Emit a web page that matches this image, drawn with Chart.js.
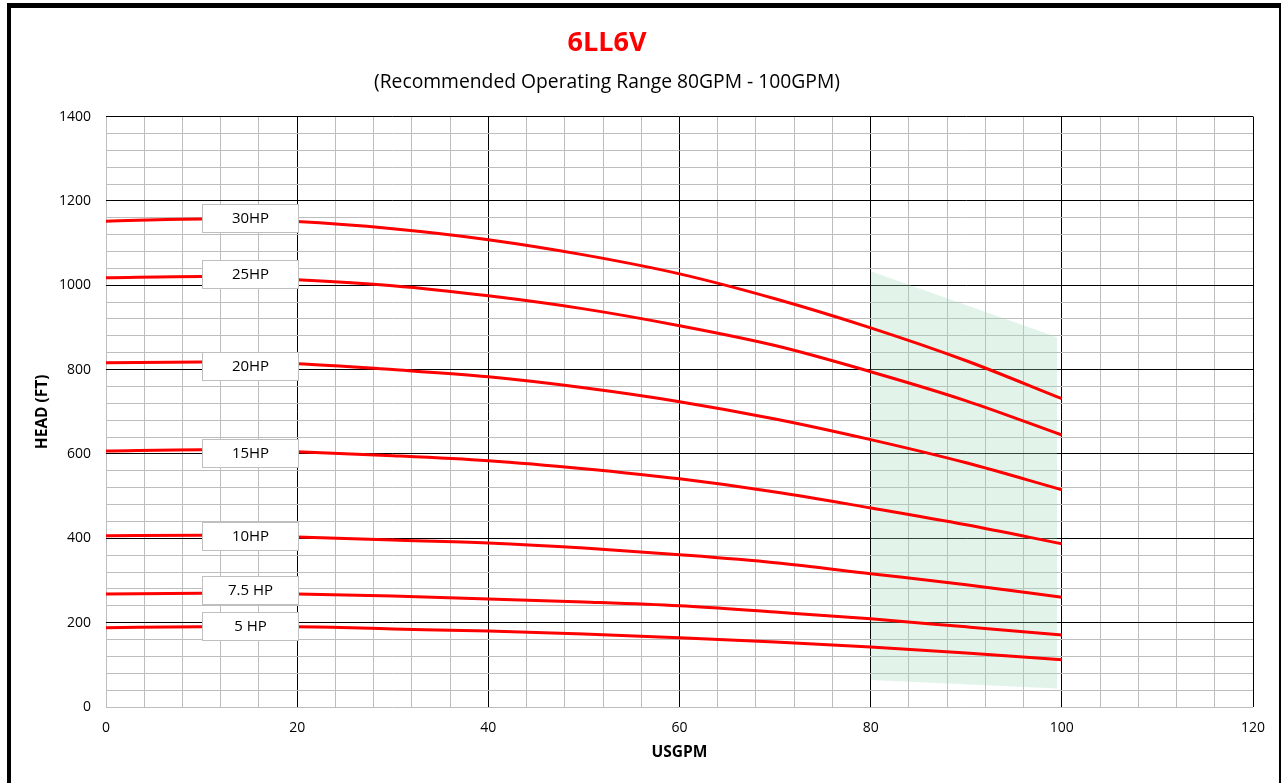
<!DOCTYPE html>
<html>
<head>
<meta charset="utf-8">
<script src="https://cdn.jsdelivr.net/npm/chart.js@4.4.1/dist/chart.umd.min.js"></script>
<style>
  html, body { margin: 0; padding: 0; background: #ffffff; }
  #wrap { position: relative; width: 1281px; height: 783px; }
</style>
</head>
<body>
<div id="wrap"><canvas id="c" width="1281" height="783"></canvas></div>
<script>
// ---- data ----
const flowGPM = [0, 10, 20, 30, 40, 50, 60, 70, 80, 90, 100];
const curveLabels = ['30HP', '25HP', '20HP', '15HP', '10HP', '7.5 HP', '5 HP'];
const head30 = [1152, 1157, 1151, 1134, 1108, 1072, 1027, 968, 899, 821, 731];
const head25 = [1018, 1021, 1013, 999, 975, 944, 904, 857, 795, 726, 645];
const head20 = [816, 818, 814, 800, 783, 757, 724, 683, 634, 579, 515];
const head15 = [607, 610, 605, 596, 584, 565, 541, 510, 472, 432, 387];
const head10 = [406, 407, 403, 396, 389, 377, 361, 342, 316, 290, 260];
const head7_5 = [268, 270, 268, 263, 256, 249, 240, 225, 209, 190, 171];
const head5 = [188, 190, 190, 185, 180, 173, 164, 154, 142, 128, 112];
const labelHeads = [1160, 1027, 809, 603, 406, 278, 192];
const labelFlowStart = 10.05;
const labelFlowEnd = 20.1;
// recommended operating range region
const rangeFlow = [80, 99.5];
const rangeTop = [1033, 877];
const rangeBottom = [64, 44];
const xTicks = [0, 20, 40, 60, 80, 100, 120];
const yTicks = [0, 200, 400, 600, 800, 1000, 1200, 1400];

const allHeads = [head30, head25, head20, head15, head10, head7_5, head5];
const toPts = (xs, ys) => xs.map((x, i) => ({ x: x, y: ys[i] }));

const datasets = allHeads.map((h, i) => ({
  label: curveLabels[i],
  data: toPts(flowGPM, h),
  borderColor: '#ff0000',
  borderWidth: 3,
  pointRadius: 0,
  cubicInterpolationMode: 'monotone',
  fill: false,
  order: 0
}));
datasets.push({
  label: 'rangeTop',
  data: toPts(rangeFlow, rangeTop),
  borderWidth: 0,
  borderColor: 'rgba(0,0,0,0)',
  backgroundColor: 'rgba(158,218,185,0.3)',
  pointRadius: 0,
  fill: '+1',
  order: 10
});
datasets.push({
  label: 'rangeBottom',
  data: toPts(rangeFlow, rangeBottom),
  borderWidth: 0,
  borderColor: 'rgba(0,0,0,0)',
  pointRadius: 0,
  fill: false,
  order: 11
});

const FONT = "'Open Sans', 'Liberation Sans', sans-serif";

const labelBoxes = {
  id: 'labelBoxes',
  afterDatasetsDraw(chart) {
    const { ctx, scales: { x, y } } = chart;
    ctx.save();
    const x0 = Math.round(x.getPixelForValue(labelFlowStart)) + 0.5;
    const x1 = Math.round(x.getPixelForValue(labelFlowEnd)) + 0.5;
    curveLabels.forEach((lab, i) => {
      const cy = y.getPixelForValue(labelHeads[i]);
      const top = Math.round(cy - 14) + 0.5;
      ctx.fillStyle = '#ffffff';
      ctx.fillRect(x0, top, x1 - x0, 28);
      ctx.strokeStyle = '#bfbfbf';
      ctx.lineWidth = 1;
      ctx.strokeRect(x0, top, x1 - x0, 28);
      ctx.fillStyle = '#000000';
      ctx.font = '15px ' + FONT;
      ctx.textAlign = 'center';
      ctx.textBaseline = 'middle';
      ctx.fillText(lab, (x0 + x1) / 2, top + 14.5);
    });
    ctx.restore();
  }
};

const pageBorder = {
  id: 'pageBorder',
  afterDraw(chart) {
    const ctx = chart.ctx;
    ctx.save();
    ctx.fillStyle = '#000000';
    ctx.fillRect(7, 3, 1281 - 7, 5);
    ctx.fillRect(7, 3, 4, 783);
    ctx.fillRect(1279, 3, 2, 783);
    ctx.restore();
  }
};

new Chart(document.getElementById('c'), {
  type: 'line',
  data: { datasets: datasets },
  plugins: [labelBoxes, pageBorder],
  options: {
    responsive: false,
    animation: false,
    layout: { padding: { left: -39, right: 28, top: 0, bottom: 0 } },
    plugins: {
      legend: { display: false },
      tooltip: { enabled: false },
      title: {
        display: true,
        text: '6LL6V',
        color: '#ff0000',
        font: { family: FONT, size: 27, weight: 'bold', lineHeight: 1.2 },
        padding: { top: 27, bottom: 0 }
      },
      subtitle: {
        display: true,
        text: '(Recommended Operating Range 80GPM - 100GPM)',
        color: '#000000',
        font: { family: FONT, size: 19.3, lineHeight: 1.2 },
        padding: { top: 12, bottom: 22 }
      }
    },
    scales: {
      x: {
        type: 'linear',
        min: 0, max: 120,
        afterFit(s) { s.height = 76; },
        afterBuildTicks(s) {
          const t = [];
          for (let v = 0; v <= 120; v += 4) t.push({ value: v });
          s.ticks = t;
        },
        border: { display: false },
        grid: {
          drawTicks: false,
          lineWidth: 1,
          color: (c) => (c.tick && c.tick.value % 20 === 0 && c.tick.value !== 0) ? '#000000' : '#bdbdbd'
        },
        ticks: {
          autoSkip: false,
          maxRotation: 0,
          padding: 13,
          color: '#000000',
          font: { family: FONT, size: 14 },
          callback: (v) => xTicks.includes(v) ? String(v) : ''
        },
        title: {
          display: true,
          text: 'USGPM',
          color: '#000000',
          font: { family: FONT, size: 15.5, weight: 'bold', lineHeight: 1.2 },
          padding: { top: 0, bottom: 21 }
        }
      },
      y: {
        type: 'linear',
        min: 0, max: 1400,
        afterFit(s) { s.width = 145; },
        afterBuildTicks(s) {
          const t = [];
          for (let v = 0; v <= 1400; v += 40) t.push({ value: v });
          s.ticks = t;
        },
        border: { display: false },
        grid: {
          drawTicks: false,
          lineWidth: 1,
          color: (c) => (c.tick && c.tick.value % 200 === 0 && c.tick.value !== 0) ? '#000000' : '#bdbdbd'
        },
        ticks: {
          autoSkip: false,
          padding: 15,
          color: '#000000',
          font: { family: FONT, size: 14 },
          callback: (v) => yTicks.includes(v) ? String(v) : ''
        },
        title: {
          display: true,
          text: 'HEAD (FT)',
          color: '#000000',
          font: { family: FONT, size: 15.5, weight: 'bold', lineHeight: 1.2 },
          padding: { top: 72, bottom: 0 }
        }
      }
    }
  }
});
</script>
</body>
</html>
